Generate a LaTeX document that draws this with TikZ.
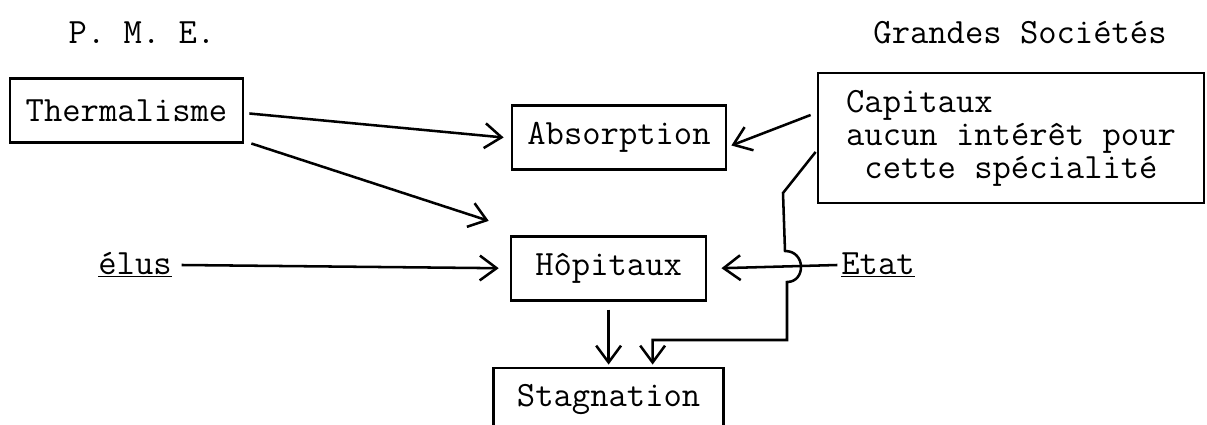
\documentclass[tikz,border=0pt]{standalone}
\usepackage{fontspec}
\usetikzlibrary{arrows.meta, positioning}

\begin{document}
\begin{tikzpicture}[
		x=0.025cm, y=-0.025cm,
		every node/.style = {font=\ttfamily\fontsize{25.3}{23.5}\selectfont},
		block/.style = {draw, rectangle, line width=1.9pt, minimum height=1.6cm, align=center},
		tag/.style = {inner sep=2pt},
		>={Straight Barb[length=4.2mm, width=6.2mm, line width=1.8pt]},
		line width=1.8pt
		]
		\useasboundingbox (0,0) rectangle (1207,425);
		% Titres
		\node[tag] (pme) at (142,33) {P. M. E.};
		\node[tag] (gs) at (1020,33) {Grandes Sociétés};
		
		% Blocs
		\node[block, minimum width=5.825cm] (thermal) at (126.5,110.5) {Thermalisme};
		\node[block, minimum width=5.35cm] (absorb) at (619,137.5) {Absorption};
		\node[block, minimum width=9.65cm, minimum height=3.25cm, align=left] (capital) at (1011,138)
			{Capitaux\\aucun intérêt pour\\\ cette spécialité};
		\node[block, minimum width=4.875cm, below=1.6cm of absorb, xshift=-0.26cm] (hopit) {Hôpitaux};
		\node[block, minimum width=5.75cm, below=1.625cm of hopit] (stagn) {Stagnation};
		\node[tag] (elus) at (135,265) {\underline{élus}};
		\node[tag] (etat) at (878,265) {\underline{Etat}};
		
		% Points du trajet
		\coordinate (kink) at (783,193);
		\coordinate (hopA) at (785,251);
		\coordinate (hopB) at (787,282);
		\coordinate (turn) at (787,340);
		
		% Connexions
		\draw[->] ([shift={(5,3)}]thermal.east) -- ([shift={(-7,0)}]absorb.west);
		\draw[->] ([shift={(7,33)}]thermal.east) -- ([shift={(-21,-14)}]hopit.north west);
		\draw[->] ([shift={(6,0)}]elus.east) -- ([shift={(-11,0)}]hopit.west);
		\draw[->] ([shift={(-6,-23)}]capital.west) -- ([shift={(4,8)}]absorb.east);
		\draw[->] (etat.west) -- ([shift={(14,0)}]hopit.east);
		\draw[->] ([shift={(-1,14)}]capital.west) -- (kink) -- (hopA)
			.. controls (806,251) and (806,282) .. (hopB) -- (turn) -| ([shift={(44,-2)}]stagn.north);
		\draw[->] ([shift={(0,8)}]hopit.south) -- ([shift={(0,-2)}]stagn.north);
	\end{tikzpicture}
\end{document}
